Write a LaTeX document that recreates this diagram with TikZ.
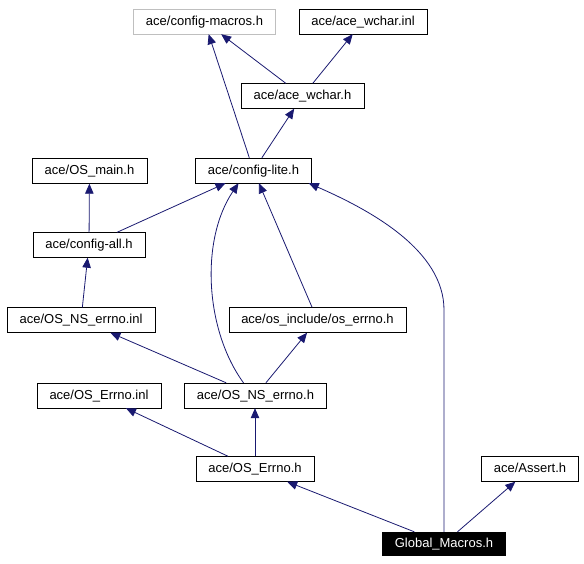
\documentclass[tikz,border=0pt]{standalone}
\usepackage{fontspec}
\setmainfont{Liberation Sans}
\usetikzlibrary{arrows.meta}
\definecolor{edgeblue}{HTML}{191970}
\definecolor{boxgray}{HTML}{BFBFBF}
\def\headers{{(363,21.5)/wcharinl/{ace/ace\_wchar.inl}}, {(302.5,96)/wcharh/{ace/ace\_wchar.h}}, {(253.5,170.5)/cfglite/{ace/config-lite.h}}, {(89.5,171)/osmain/{ace/OS\_main.h}}, {(89,245)/cfgall/{ace/config-all.h}}, {(81,320)/nserrnoinl/{ace/OS\_NS\_errno.inl}}, {(317.5,320)/oserrno/{ace/os\_include/os\_errno.h}}, {(99,395.5)/errnoinl/{ace/OS\_Errno.inl}}, {(255.5,395.5)/nserrnoh/{ace/OS\_NS\_errno.h}}, {(255,469)/errnoh/{ace/OS\_Errno.h}}, {(530,469)/asserth/{ace/Assert.h}}}
\def\includes{wcharh/cfgmacros, wcharh/wcharinl, cfglite/cfgmacros, cfglite/wcharh, cfgall/osmain, cfgall/cfglite, nserrnoinl/cfgall, nserrnoh/nserrnoinl, nserrnoh/oserrno, oserrno/cfglite, errnoh/errnoinl, global/errnoh, global/asserth}
\tikzstyle{header}=[draw=black,fill=white,minimum height=25pt,inner xsep=12.5pt,inner ysep=0pt,text height=9.5pt,text depth=2.5pt,font=\fontsize{13}{15}\selectfont]
\tikzstyle{missing header}=[header,draw=boxgray]
\tikzstyle{this header}=[header,fill=black,text=white,minimum height=23pt]
\tikzstyle{include}=[draw=edgeblue,line width=0.8pt,-{Triangle[length=10pt,width=8.5pt]}]
\begin{document}
\begin{tikzpicture}[x=1pt,y=-1pt]
  \useasboundingbox (0,0) rectangle (584,563);
  % The headers, the one not found in grey and the file itself in black
  \node[missing header] (cfgmacros) at (204.5,21.5) {ace/config-macros.h};
  \foreach \pos/\name/\file in \headers {
    \node[header] (\name) at \pos {\file};
  }
  \node[this header] (global) at (444,543.5) {Global\_Macros.h};

  % Straight include edges
  \foreach \source/ \dest in \includes
    \path[include] (\source) -- (\dest);
  \path[include] (errnoh) -- (errnoh |- nserrnoh.south);

  % The two bent ones into config-lite
  \path[include] ([xshift=-12]nserrnoh.north) .. controls (205,330) and (200,240) .. ([xshift=-15]cfglite.south);
  \path[include] (global.north) -- (444,310) .. controls (444,250) and (370,210) .. ([xshift=-3]cfglite.south east);
\end{tikzpicture}
\end{document}
